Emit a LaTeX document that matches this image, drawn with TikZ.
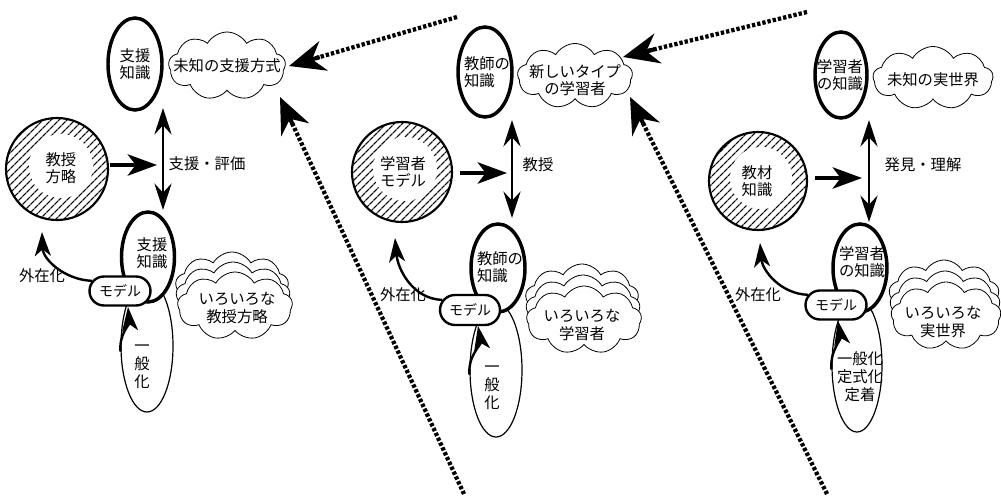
\documentclass[tikz,border=0pt]{standalone}
\usepackage{fontspec}
\newfontfamily\jp{Noto Sans CJK JP}
\usetikzlibrary{shapes.geometric,shapes.symbols,shapes.misc,arrows.meta,patterns.meta,calc}
\begin{document}
\begin{tikzpicture}[x=0.75pt,y=-0.75pt,
  sz/.style 2 args={minimum width=#1*0.75pt,minimum height=#2*0.75pt},
  txt/.style={font=\jp\fontsize{11.5pt}{13pt}\selectfont,align=center,inner sep=0pt},
  vtxt/.style={font=\jp\fontsize{11.5pt}{13.5pt}\selectfont,align=center,inner sep=0pt},
  smalltxt/.style={font=\jp\fontsize{10.5pt}{12pt}\selectfont,inner sep=0pt},
  thickell/.style={ellipse,draw,line width=2.6pt,fill=white,inner sep=0pt},
  thinell/.style={ellipse,draw,line width=0.9pt,inner sep=0pt},
  hatchcirc/.style={circle,draw,line width=1.6pt,inner sep=0pt,pattern={Lines[angle=45,distance=4pt,line width=1pt]}},
  holecirc/.style={circle,fill=white,inner sep=0pt},
  cloudy/.style={cloud,cloud puffs=9,cloud puff arc=120,cloud ignores aspect,draw,line width=0.6pt,fill=white,inner sep=0pt},
  modelbox/.style={rounded rectangle,draw,line width=1.8pt,fill=white,inner sep=0pt},
  bigarrow/.style={line width=2.8pt,-{Stealth[length=22pt,width=16pt,inset=6pt]}},
  twoway/.style={line width=0.9pt,{Stealth[length=20pt,width=13pt,inset=7pt]}-{Stealth[length=20pt,width=13pt,inset=7pt]}},
  outarrow/.style={line width=1.8pt,-{Stealth[length=18pt,width=12pt,inset=5pt]}},
  dotline/.style={line width=3.2pt,dash pattern=on 2.5pt off 1.5pt,shorten >=18pt},
  dothead/.style={line width=3pt,-{Stealth[length=27pt,width=23pt,inset=9pt]}},
]
\useasboundingbox (0,0) rectangle (1001,496);

% ---------------- Panel 1 ----------------
\node[thickell,sz={54}{92}] (k1) at (135,64) {};
\node[txt] (k1t) at (135,64) {支援\\知識};
\node[cloudy,sz={117}{68}] (cl1) at (227,66) {};
\node[txt] (cl1t) at (227,66) {未知の支援方式};
\node[hatchcirc,sz={102}{102}] (c1) at (57,169) {};
\node[holecirc,sz={64}{64}] (c1h) at (61,166) {};
\node[txt] (c1t) at (61,168) {教授\\方略};
\coordinate (a1s) at (110,165); \coordinate (a1e) at (157,165);
\draw[bigarrow] (a1s) -- (a1e);
\coordinate (v1t) at (163,108); \coordinate (v1b) at (163,210);
\draw[twoway] (v1t) -- (v1b);
\node[txt] (v1l) at (207,164) {支援・評価};
\node[thinell,sz={52}{132}] (t1) at (147,346) {};
\node[thickell,sz={53}{90}] (k1b) at (148,257) {};
\node[txt] (k1bt) at (152,253) {支援\\知識};
\node[modelbox,sz={61}{29}] (m1) at (120,291) {};
\node[smalltxt] (m1t) at (120,291) {モデル};
\node[txt] (x1t) at (42,276) {外在化};
\coordinate (e1) at (42,232);
\draw[outarrow] (m1.160) to[out=178,in=-88] (e1);
\coordinate (g1e) at (128,307);
\draw[outarrow] (t1.192) to[out=95,in=-85] (g1e);
\node[vtxt] (g1t) at (142,367) {一\\般\\化};
\node[cloudy,sz={113}{68}] (s1a) at (232,286) {};
\node[cloudy,sz={114}{68}] (s1b) at (233,296) {};
\node[cloudy,sz={115}{68}] (s1c) at (235,306) {};
\node[txt] (s1t) at (237,308) {いろいろな\\教授方略};

% ---------------- Panel 2 ----------------
\node[thickell,sz={54}{90}] (k2) at (485,72) {};
\node[txt,align=left] (k2t) at (487,72) {教師の\\知識};
\node[cloudy,sz={115}{65}] (cl2) at (575,76) {};
\node[txt] (cl2t) at (575,80) {新しいタイプ\\の学習者};
\node[hatchcirc,sz={100}{100}] (c2) at (402,172) {};
\node[holecirc,sz={64}{64}] (c2h) at (405,169) {};
\node[txt] (c2t) at (403,172) {学習者\\モデル};
\coordinate (a2s) at (460,173); \coordinate (a2e) at (507,173);
\draw[bigarrow] (a2s) -- (a2e);
\coordinate (v2t) at (512,120); \coordinate (v2b) at (512,218);
\draw[twoway] (v2t) -- (v2b);
\node[txt] (v2l) at (538,165) {教授};
\node[thinell,sz={52}{134}] (t2) at (496,370) {};
\node[thickell,sz={54}{88}] (k2b) at (498,268) {};
\node[txt,align=left] (k2bt) at (500,267) {教師の\\知識};
\node[modelbox,sz={60}{30}] (m2) at (470,310) {};
\node[smalltxt] (m2t) at (470,310) {モデル};
\node[txt] (x2t) at (403,295) {外在化};
\coordinate (e2) at (395,238);
\draw[outarrow] (m2.160) to[out=178,in=-85] (e2);
\coordinate (g2e) at (478,326);
\draw[outarrow] (t2.190) to[out=95,in=-80] (g2e);
\node[vtxt] (g2t) at (492,388) {一\\般\\化};
\node[cloudy,sz={113}{68}] (s2a) at (582,298) {};
\node[cloudy,sz={114}{68}] (s2b) at (583,309) {};
\node[cloudy,sz={115}{68}] (s2c) at (584,320) {};
\node[txt] (s2t) at (582,325) {いろいろな\\学習者};

% ---------------- Panel 3 ----------------
\node[thickell,sz={52}{86}] (k3) at (841,75) {};
\node[txt,align=left] (k3t) at (840,75) {学習者\\の知識};
\node[cloudy,sz={120}{63}] (cl3) at (933,78) {};
\node[txt] (cl3t) at (933,80) {未知の実世界};
\node[hatchcirc,sz={98}{98}] (c3) at (758,181) {};
\node[holecirc,sz={62}{62}] (c3h) at (761,178) {};
\node[txt] (c3t) at (757,181) {教材\\知識};
\coordinate (a3s) at (815,178); \coordinate (a3e) at (862,178);
\draw[bigarrow] (a3s) -- (a3e);
\coordinate (v3t) at (869,120); \coordinate (v3b) at (869,222);
\draw[twoway] (v3t) -- (v3b);
\node[txt] (v3l) at (923,165) {発見・理解};
\node[thinell,sz={50}{134}] (t3) at (857,365) {};
\node[thickell,sz={54}{88}] (k3b) at (860,268) {};
\node[txt,align=left] (k3bt) at (862,262) {学習者\\の知識};
\node[modelbox,sz={61}{29}] (m3) at (836,305) {};
\node[smalltxt] (m3t) at (836,305) {モデル};
\node[txt] (x3t) at (758,295) {外在化};
\coordinate (e3) at (760,243);
\draw[outarrow] (m3.160) to[out=178,in=-85] (e3);
\coordinate (g3e) at (838,321);
\draw[outarrow] (t3.190) to[out=95,in=-80] (g3e);
\node[vtxt] (g3t) at (860,377) {一般化\\定式化\\定着};
\node[cloudy,sz={110}{68}] (s3a) at (944,294) {};
\node[cloudy,sz={110}{68}] (s3b) at (945,305) {};
\node[cloudy,sz={110}{68}] (s3c) at (946,316) {};
\node[txt] (s3t) at (943,322) {いろいろな\\実世界};

% ---------------- dotted arrows ----------------
\coordinate (d1s) at (457,17); \coordinate (d1e) at (289,66);
\draw[dotline] (d1s) -- (d1e);
\draw[dothead] ($(d1e)!24pt!(d1s)$) -- (d1e);
\coordinate (d2s) at (464,494); \coordinate (d2e) at (280,97);
\draw[dotline] (d2s) -- (d2e);
\draw[dothead] ($(d2e)!24pt!(d2s)$) -- (d2e);
\coordinate (d3s) at (807,12); \coordinate (d3e) at (623,57);
\draw[dotline] (d3s) -- (d3e);
\draw[dothead] ($(d3e)!24pt!(d3s)$) -- (d3e);
\coordinate (d4s) at (827,494); \coordinate (d4e) at (630,97);
\draw[dotline] (d4s) -- (d4e);
\draw[dothead] ($(d4e)!24pt!(d4s)$) -- (d4e);
\end{tikzpicture}
\end{document}
